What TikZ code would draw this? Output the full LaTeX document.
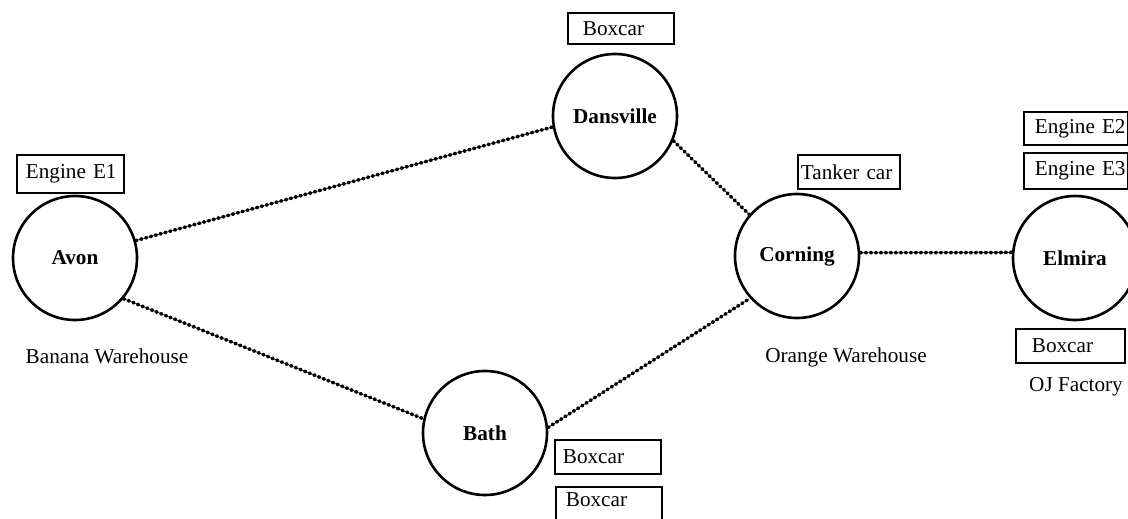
\documentclass[tikz,border=0pt]{standalone}
\usepackage{fontspec}
\setmainfont{Liberation Serif}
\begin{document}
\begin{tikzpicture}[x=1pt,y=-1pt,
  font=\fontsize{21.2}{25}\selectfont,
  town/.style={circle, draw, line width=2.6pt, minimum size=124pt, inner sep=0pt,
               font=\fontsize{21.2}{25}\selectfont\bfseries},
  carbox/.style={draw, line width=1.8pt, anchor=north west, align=left, inner ysep=0pt},
  track/.style={line width=3.5pt, line cap=round, dash pattern=on 1.4pt off 3.6pt},
  caption/.style={inner sep=0pt}]
\useasboundingbox (0,0) rectangle (1128,519);

% towns
\node[town] (avon)      at (75,258)   {Avon};
\node[town] (dansville) at (615,116)  {Dansville};
\node[town] (corning)   at (797,256)  {Corning};
\node[town] (bath)      at (485,433)  {Bath};
\node[town] (elmira)    at (1075,258) {Elmira};

% tracks between towns
\draw[track] (avon.16)       -- (dansville.190);
\draw[track] (avon.-40)      -- (bath.167);
\draw[track] (dansville.-23) -- (corning.139);
\draw[track] (bath.5)        -- (corning.-138);
\draw[track] (corning.3)     -- (elmira.175);

% cars standing at each town
\node[carbox, minimum height=38pt, inner xsep=9pt, text width=89pt] (engE1) at (16,154) {\mbox{Engine E1}};
\node[carbox, minimum height=31pt, inner xsep=15pt, text width=76pt] (boxD) at (567,12) {\mbox{Boxcar}};
\node[carbox, minimum height=34pt, inner xsep=3pt, text width=96pt] (tank) at (797,154) {\mbox{Tanker car}};
\node[carbox, minimum height=33pt, inner xsep=11pt, text width=82pt] (engE2) at (1023,111) {\mbox{Engine E2}};
\node[carbox, minimum height=36pt, inner xsep=11pt, text width=82pt] (engE3) at (1023,152) {\mbox{Engine E3}};
\node[carbox, minimum height=34pt, inner xsep=16pt, text width=77pt] (boxE) at (1015,328) {\mbox{Boxcar}};
\node[carbox, minimum height=34pt, inner xsep=8pt, text width=90pt] (boxB1) at (554,439) {\mbox{Boxcar}};
\node[carbox, minimum height=40pt, inner xsep=10pt, text width=86pt, text depth=14pt] (boxB2) at (555,486) {\mbox{Boxcar}};

% site captions
\node[caption] (banana) at (107,356)  {Banana Warehouse};
\node[caption] (orange) at (846,357)  {Orange Warehouse};
\node[caption] (ojf)    at (1076,387) {OJ Factory};
\end{tikzpicture}
\end{document}
